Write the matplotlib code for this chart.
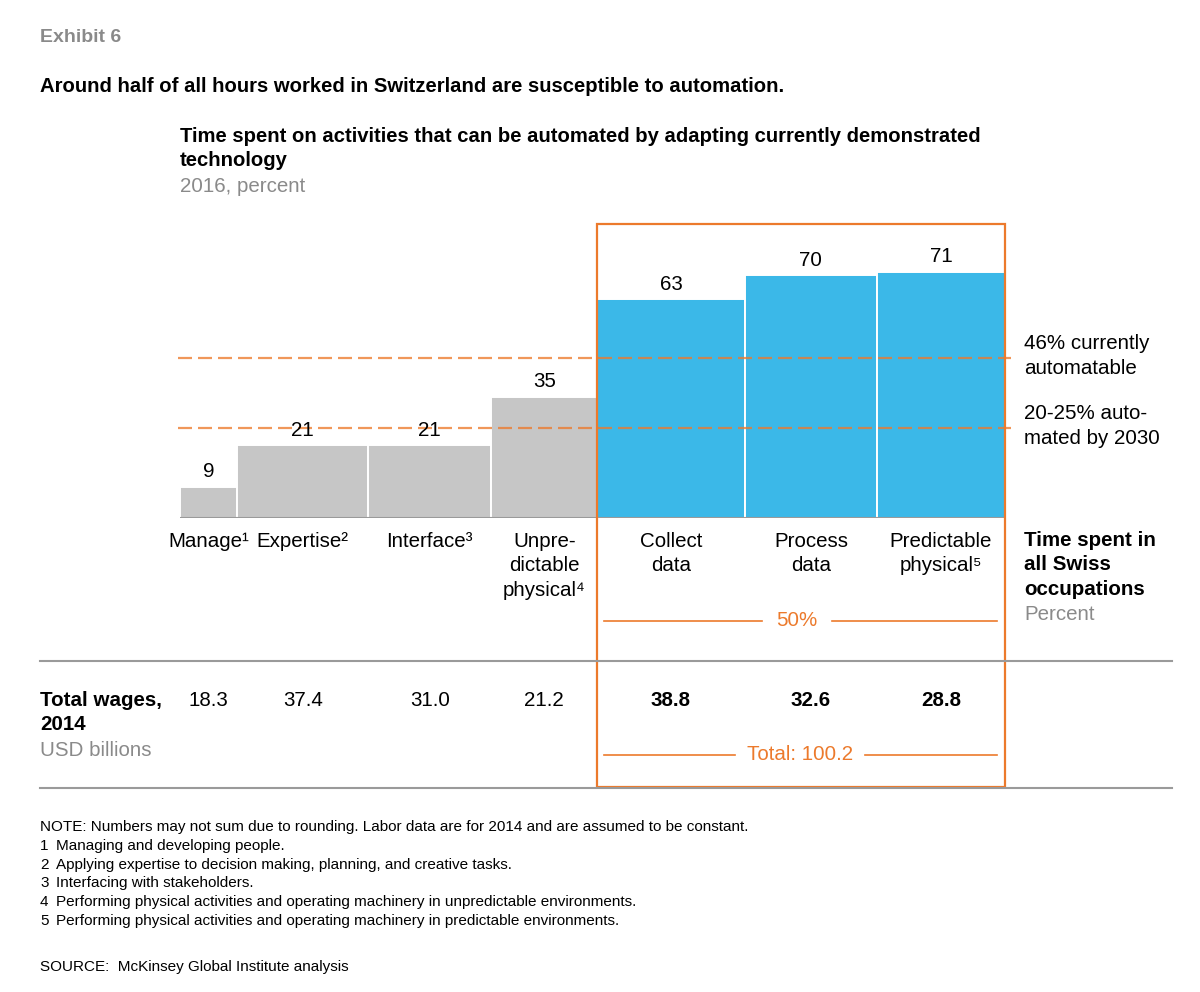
import numpy as np
import matplotlib
matplotlib.use("Agg")
import matplotlib.pyplot as plt
from matplotlib.transforms import blended_transform_factory
from matplotlib.patches import Rectangle

plt.rcParams['font.family'] = ['Liberation Sans', 'DejaVu Sans']

categories = ['Manage\u00b9', 'Expertise\u00b2', 'Interface\u00b3',
              'Unpre-\ndictable\nphysical\u2074', 'Collect\ndata',
              'Process\ndata', 'Predictable\nphysical\u2075']
automatable = [9, 21, 21, 35, 63, 70, 71]          # % of time automatable
time_share = [6.9, 15.9, 14.9, 12.8, 17.9, 16.0, 15.5]  # bar widths, % of hours
wages = ['18.3', '37.4', '31.0', '21.2', '38.8', '32.6', '28.8']
highlight = [False, False, False, False, True, True, True]
current_level = 46
by2030_level = 26

footnotes = ['Managing and developing people.',
             'Applying expertise to decision making, planning, and creative tasks.',
             'Interfacing with stakeholders.',
             'Performing physical activities and operating machinery in unpredictable environments.',
             'Performing physical activities and operating machinery in predictable environments.']

BLUE = '#3BB8E8'
GREY_BAR = '#C6C6C6'
ORANGE = '#EC7A2C'
GREY_TXT = '#8A8A8A'
RULE = '#9A9A9A'
FS = 14.8
LS = 1.36

W, H = 1200, 992
fig = plt.figure(figsize=(W / 100, H / 100), dpi=100)


def fx(x):
    return x / W


def fy(y):
    return 1 - y / H


# bar axes: baseline at y=518px, 3.47 px per percent
base_px, top_px, left_px, right_px = 518, 224, 180, 1005
ax = fig.add_axes([fx(left_px), fy(base_px), fx(right_px - left_px), (base_px - top_px) / H])
ax.set_xlim(0, sum(time_share))
ax.set_ylim(0, (base_px - top_px) / 3.47)
ax.axis('off')

edges = np.concatenate([[0], np.cumsum(time_share)])
lefts = edges[:-1]
centers = lefts + np.array(time_share) / 2
colors = [BLUE if h else GREY_BAR for h in highlight]
ax.bar(lefts, automatable, width=time_share, align='edge', color=colors,
       edgecolor='white', linewidth=1.4)
ax.axhline(0, color=RULE, lw=1.5)
for c, v in zip(centers, automatable):
    ax.annotate(str(v), (c, v), xytext=(0, 4), textcoords='offset points',
                ha='center', va='bottom', fontsize=FS)

# dashed reference lines
for lvl in (current_level, by2030_level):
    ax.plot([-0.3, sum(time_share) + 0.7], [lvl, lvl], color=ORANGE, lw=1.6,
            ls=(0, (6.3, 2.7)), alpha=0.78, clip_on=False)

fig.text(fx(1024), fy(356), '46% currently\nautomatable', fontsize=FS,
         va='center', ha='left', linespacing=LS)
fig.text(fx(1024), fy(426), '20-25% auto-\nmated by 2030', fontsize=FS,
         va='center', ha='left', linespacing=LS)

trans = blended_transform_factory(ax.transData, fig.transFigure)

# category labels and wages
for i, c in enumerate(centers):
    fig.text(c, fy(532), categories[i], transform=trans, ha='center', va='top',
             fontsize=FS, linespacing=LS)
    fig.text(c, fy(700), wages[i], transform=trans, ha='center', va='center',
             fontsize=FS, fontweight='bold' if highlight[i] else 'normal')

# highlighted box
x0 = lefts[4]
x1 = edges[-1]
box = Rectangle((x0, fy(787)), x1 - x0, (787 - 224) / H, transform=trans,
                fill=False, edgecolor=ORANGE, lw=1.6, clip_on=False)
fig.add_artist(box)

# bracket labels inside the box
fig.add_artist(plt.Line2D([fx(604), fx(762)], [fy(621), fy(621)], color=ORANGE, lw=1.2))
fig.add_artist(plt.Line2D([fx(832), fx(997)], [fy(621), fy(621)], color=ORANGE, lw=1.2))
fig.text(fx(797), fy(621), '50%', color=ORANGE, fontsize=FS, ha='center', va='center')
fig.add_artist(plt.Line2D([fx(604), fx(735)], [fy(755), fy(755)], color=ORANGE, lw=1.2))
fig.add_artist(plt.Line2D([fx(865), fx(997)], [fy(755), fy(755)], color=ORANGE, lw=1.2))
fig.text(fx(800), fy(755), 'Total: 100.2', color=ORANGE, fontsize=FS, ha='center', va='center')

# right-hand column header
fig.text(fx(1024), fy(531), 'Time spent in\nall Swiss\noccupations', fontsize=FS,
         fontweight='bold', va='top', ha='left', linespacing=LS)
fig.text(fx(1024), fy(614), 'Percent', fontsize=FS, color=GREY_TXT, va='center')

# table rules
for y in (661, 788):
    fig.add_artist(plt.Line2D([fx(40), fx(1172)], [fy(y), fy(y)], color=RULE, lw=1.5))

fig.text(fx(40), fy(691), 'Total wages,\n2014', fontsize=FS, fontweight='bold',
         va='top', ha='left', linespacing=LS)
fig.text(fx(40), fy(750), 'USD billions', fontsize=FS, color=GREY_TXT, va='center')

# headings
fig.text(fx(40), fy(37), 'Exhibit 6', fontsize=14, fontweight='bold', color=GREY_TXT, va='center')
fig.text(fx(40), fy(86), 'Around half of all hours worked in Switzerland are susceptible to automation.',
         fontsize=FS - 0.2, fontweight='bold', va='center')
fig.text(fx(180), fy(127), 'Time spent on activities that can be automated by adapting currently demonstrated\ntechnology',
         fontsize=FS - 0.2, fontweight='bold', va='top', linespacing=LS)
fig.text(fx(180), fy(186), '2016, percent', fontsize=FS, color=GREY_TXT, va='center')

# notes
fig.text(fx(40), fy(827), 'NOTE: Numbers may not sum due to rounding. Labor data are for 2014 and are assumed to be constant.',
         fontsize=11, va='center')
for k, note in enumerate(footnotes):
    y = 846 + k * 18.7
    fig.text(fx(40), fy(y), str(k + 1), fontsize=11, va='center')
    fig.text(fx(56), fy(y), note, fontsize=11, va='center')
fig.text(fx(40), fy(967), 'SOURCE:  McKinsey Global Institute analysis', fontsize=11, va='center')

fig.savefig('out.png', dpi=100, facecolor='white')
